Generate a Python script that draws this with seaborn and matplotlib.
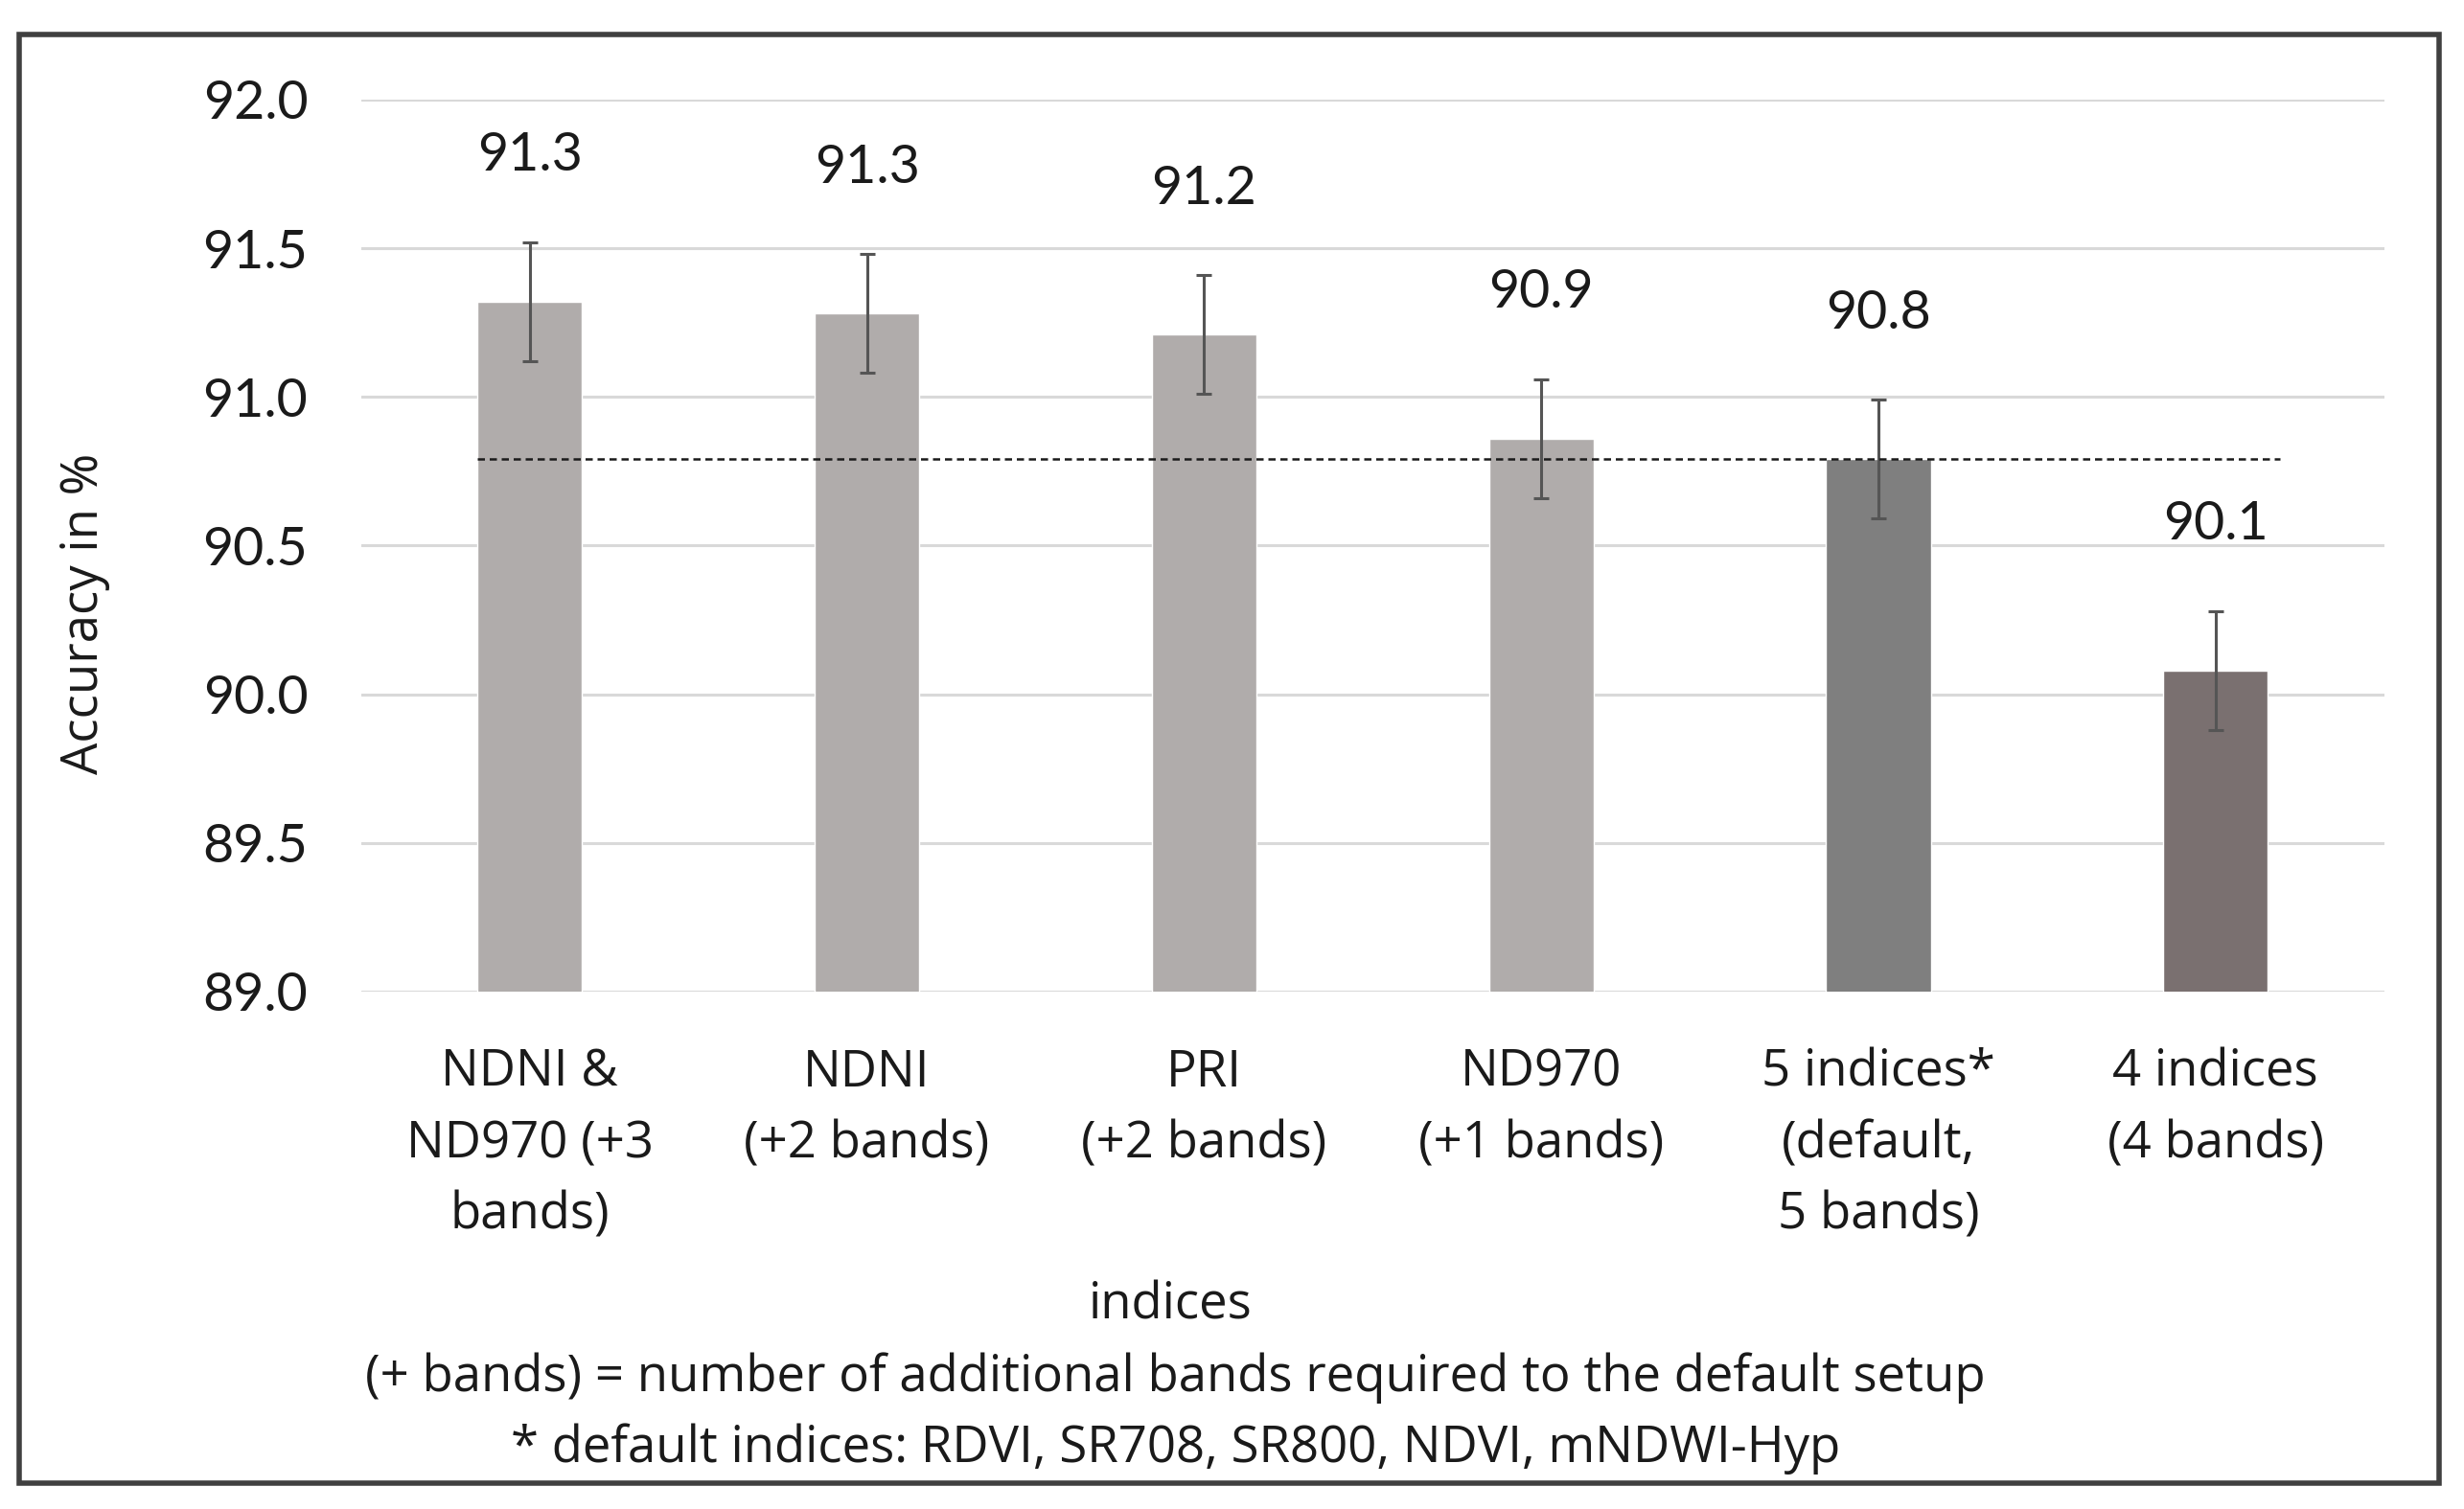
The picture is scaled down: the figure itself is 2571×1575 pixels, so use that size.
import numpy as np
import pandas as pd
import seaborn as sns
import matplotlib.pyplot as plt
from matplotlib.patches import Rectangle

# values
labels = ["NDNI &\nND970 (+3\nbands)", "NDNI\n(+2 bands)", "PRI\n(+2 bands)",
          "ND970\n(+1 bands)", "5 indices*\n(default,\n5 bands)", "4 indices\n(4 bands)"]
accuracy = [91.32, 91.28, 91.21, 90.86, 90.79, 90.08]
errors = [0.2, 0.2, 0.2, 0.2, 0.2, 0.2]
bar_colors = ["#b0acab", "#b0acab", "#b0acab", "#b0acab", "#7f7f7f", "#7a7070"]
default_level = 90.79
yticks = [89.0, 89.5, 90.0, 90.5, 91.0, 91.5, 92.0]

df = pd.DataFrame({"setup": labels, "acc": accuracy})

sns.set_style("white")
plt.rcParams["font.family"] = ["Open Sans", "DejaVu Sans"]
num_font = ["Lato", "DejaVu Sans"]
text_color = "#1a1a1a"

fig = plt.figure(figsize=(25.71, 15.75), dpi=100)
ax = fig.add_axes([0.1466, 0.343, 0.821, 0.591])

sns.barplot(data=df, x="setup", y="acc", hue="setup", palette=bar_colors,
            saturation=1, legend=False, width=0.31, ax=ax, zorder=3)

# error bars
ax.errorbar(range(len(labels)), accuracy, yerr=errors, fmt="none",
            ecolor="#555555", elinewidth=2.2, capsize=5.5, capthick=2.2, zorder=4)

# value labels
for i, v in enumerate(accuracy):
    ax.text(i, v + 0.49, f"{v:.1f}", ha="center", va="center",
            fontsize=40, color=text_color, family=num_font)

# dashed reference line (default setup)
ax.plot([-0.155, 5.19], [default_level, default_level], ls=(0, (3, 2)),
        color="#1a1a1a", lw=1.8, zorder=5)

ax.set_ylim(89.0, 92.0)
ax.set_xlim(-0.5, 5.5)
ax.set_yticks(yticks)
ax.set_yticklabels([f"{t:.1f}" for t in yticks], family=num_font)
ax.yaxis.grid(True, color="#d9d9d9", lw=2.2, zorder=0)
ax.xaxis.grid(False)
for s in ax.spines.values():
    s.set_visible(False)
ax.tick_params(axis="y", length=0, pad=40, labelsize=40, labelcolor=text_color)
ax.tick_params(axis="x", length=0, pad=42, labelsize=38, labelcolor=text_color)
for t in ax.get_xticklabels():
    t.set_linespacing(1.52)

ax.set_xlabel("")
ax.set_ylabel("Accuracy in %", fontsize=38, color=text_color)
ax.yaxis.set_label_coords(-0.124, 0.424)

# footer text
fig.text(0.475, 0.135, "indices", ha="center", va="center", fontsize=38, color=text_color)
fig.text(0.477, 0.087, "(+ bands) = number of additional bands required to the default setup",
         ha="center", va="center", fontsize=38, color=text_color)
fig.text(0.477, 0.040, "* default indices: RDVI, SR708, SR800, NDVI, mNDWI-Hyp",
         ha="center", va="center", fontsize=38, color=text_color)

# outer frame
fig.patches.append(Rectangle((0.0078, 0.017), 0.982, 0.96, transform=fig.transFigure,
                             fill=False, edgecolor="#404040", lw=4))

fig.savefig("out.png", dpi=100)
